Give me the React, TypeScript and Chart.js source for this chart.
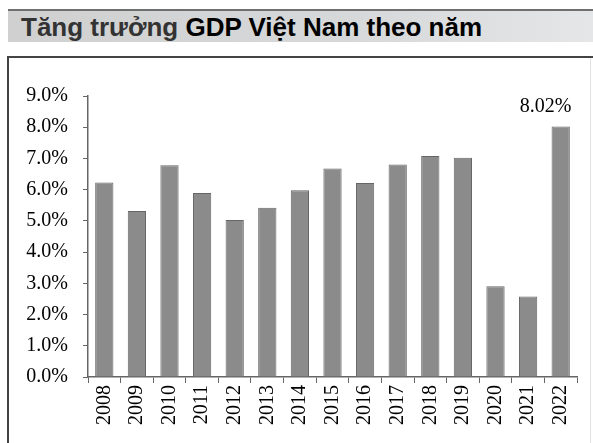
import React, { useEffect, useRef } from "react";
import { Chart, registerables } from "chart.js";

Chart.register(...registerables);

const TITLE_LIGHT = "Tăng trưởng ";
const TITLE_BOLD = "GDP Việt Nam theo năm";
const years = ["2008","2009","2010","2011","2012","2013","2014","2015","2016","2017","2018","2019","2020","2021","2022"];
const growth = [6.23, 5.32, 6.78, 5.89, 5.03, 5.42, 5.98, 6.68, 6.21, 6.81, 7.08, 7.02, 2.91, 2.58, 8.02];
const labelledIndex = 14;
const labelText = "8.02%";

const SERIF = "'Liberation Serif', 'Times New Roman', serif";

const valueLabelPlugin = {
  id: "valueLabel",
  afterDatasetsDraw(chart: any) {
    const meta = chart.getDatasetMeta(0);
    const bar = meta.data[labelledIndex];
    if (!bar) return;
    const ctx = chart.ctx;
    ctx.save();
    ctx.font = `20px ${SERIF}`;
    ctx.fillStyle = "#000";
    ctx.textAlign = "center";
    ctx.textBaseline = "alphabetic";
    ctx.fillText(labelText, bar.x - 15, bar.y - 15);
    ctx.restore();
  },
};

export default function App() {
  const ref = useRef<HTMLCanvasElement | null>(null);
  useEffect(() => {
    document.body.style.margin = "0";
    const canvas = ref.current!;
    const chart = new Chart(canvas, {
      type: "bar",
      data: {
        labels: years,
        datasets: [
          {
            data: growth,
            backgroundColor: "#8b8b8b",
            borderColor: "#666",
            borderWidth: 1,
            categoryPercentage: 1,
            barPercentage: 0.56,
          },
        ],
      },
      options: {
        animation: false,
        responsive: false,
        maintainAspectRatio: false,
        layout: { padding: { top: 38, right: 16, left: 0, bottom: 0 } },
        plugins: { legend: { display: false }, tooltip: { enabled: false } },
        scales: {
          x: {
            grid: { display: true, drawOnChartArea: false, offset: true, tickLength: 6, color: "#666" },
            border: { color: "#666", width: 1.5 },
            ticks: {
              color: "#000",
              font: { family: SERIF, size: 20 },
              minRotation: 90,
              maxRotation: 90,
              autoSkip: false,
              padding: 2,
            },
            afterFit: (s: any) => { s.height = 66; },
          },
          y: {
            min: 0,
            max: 9,
            grid: { display: true, drawOnChartArea: false, tickLength: 5, color: "#666" },
            border: { color: "#666", width: 1.5 },
            ticks: {
              stepSize: 1,
              color: "#000",
              font: { family: SERIF, size: 20 },
              padding: 15,
              callback: (v: any) => Number(v).toFixed(1) + "%",
            },
            afterFit: (s: any) => { s.width = 80; },
          },
        },
      },
      plugins: [valueLabelPlugin],
    });
    return () => chart.destroy();
  }, []);

  return (
    <div style={{ position: "relative", width: 593, height: 443, background: "#fff", overflow: "hidden" }}>
      <div style={{ position: "absolute", left: 8, top: 9, width: 585, height: 2, background: "#6f6f6f" }} />
      <div
        style={{
          position: "absolute",
          left: 8,
          top: 11,
          width: 585,
          height: 31,
          background: "linear-gradient(to right, #d0d0d0, #d6d8da 60%, #e4e6e8)",
        }}
      />
      <div
        style={{
          position: "absolute",
          left: 21,
          top: 12,
          fontFamily: "'Liberation Sans', Arial, sans-serif",
          fontWeight: "bold",
          fontSize: 26,
          lineHeight: "31px",
          whiteSpace: "nowrap",
        }}
      >
        <span style={{ color: "#333" }}>{TITLE_LIGHT}</span>
        <span style={{ color: "#000" }}>{TITLE_BOLD}</span>
      </div>
      <div style={{ position: "absolute", left: 7, top: 56, width: 586, height: 2, background: "#444" }} />
      <div style={{ position: "absolute", left: 7, top: 56, width: 2, height: 387, background: "#444" }} />
      <div style={{ position: "absolute", left: 590, top: 58, width: 1, height: 385, background: "#e2e2e2" }} />
      <canvas ref={ref} width={585} height={385} style={{ position: "absolute", left: 8, top: 58 }} />
    </div>
  );
}
